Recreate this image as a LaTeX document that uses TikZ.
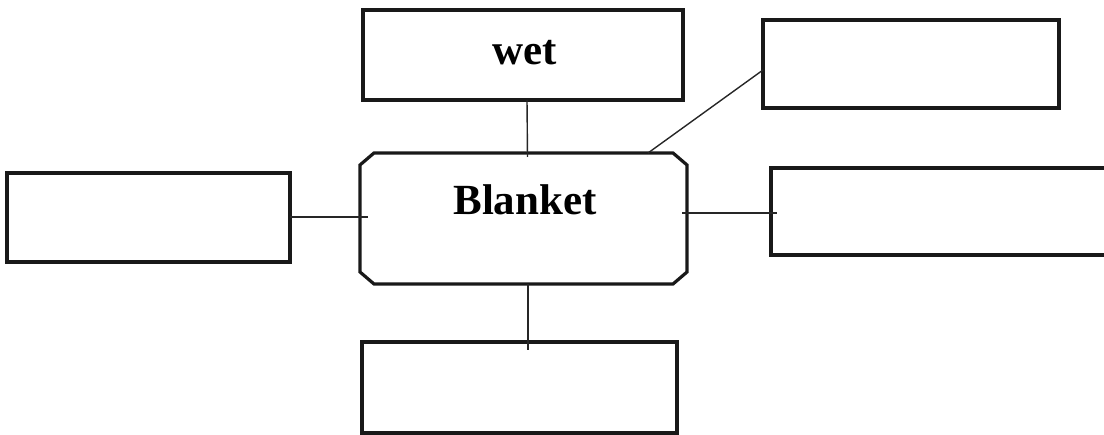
\documentclass[tikz,border=0pt]{standalone}
\usepackage{fontspec}
\setmainfont{Liberation Serif}
\begin{document}
\begin{tikzpicture}[x=1pt,y=-1pt,
  box/.style={draw=black!90, line width=3.2pt, rectangle, inner sep=0pt, outer sep=0pt},
  hubarea/.style={rectangle, inner sep=0pt, outer sep=0pt},
  hubline/.style={draw=black!90, line width=3.2pt, line join=miter},
  conn/.style={draw=black!85, line width=1.4pt},
  lbl/.style={font=\fontsize{43}{50}\selectfont\bfseries, inner sep=0pt}]
\useasboundingbox (0,0) rectangle (1104,435);
\node[box, minimum width=320pt, minimum height=90pt] (wet) at (523,55) {};
\node[lbl, anchor=base] (wettext) at (525,65) {wet};
\node[hubarea, minimum width=327pt, minimum height=131pt] (blanket) at (523.5,218.5) {};
\draw[hubline] ([xshift=14pt]blanket.north west) -- ([xshift=-14pt]blanket.north east)
  -- ([yshift=-12pt]blanket.north east) -- ([yshift=12pt]blanket.south east)
  -- ([xshift=-14pt]blanket.south east) -- ([xshift=14pt]blanket.south west)
  -- ([yshift=12pt]blanket.south west) -- ([yshift=-12pt]blanket.north west) -- cycle;
\node[lbl, anchor=base] (blankettext) at (525,215) {Blanket};
\node[box, minimum width=296pt, minimum height=88pt] (tr) at (911,64) {};
\node[box, minimum width=344pt, minimum height=87pt] (right) at (943,211.5) {};
\node[box, minimum width=283pt, minimum height=89pt] (left) at (148.5,217.5) {};
\node[box, minimum width=315pt, minimum height=91pt] (bottom) at (519.5,387.5) {};
\draw[conn] ([xshift=4pt]wet.south) -- ([xshift=4pt,yshift=-4pt]blanket.north);
\draw[conn] ([yshift=-6pt]tr.west) -- ([xshift=124.5pt]blanket.north);
\draw[conn] ([xshift=-5pt,yshift=5.5pt]blanket.east) -- ([xshift=6pt,yshift=-1.5pt]right.west);
\draw[conn] ([yshift=0.5pt]left.east) -- ([xshift=8pt,yshift=1.5pt]blanket.west);
\draw[conn] ([xshift=4.5pt]blanket.south) -- ([xshift=8.5pt,yshift=-8pt]bottom.north);
\end{tikzpicture}
\end{document}
